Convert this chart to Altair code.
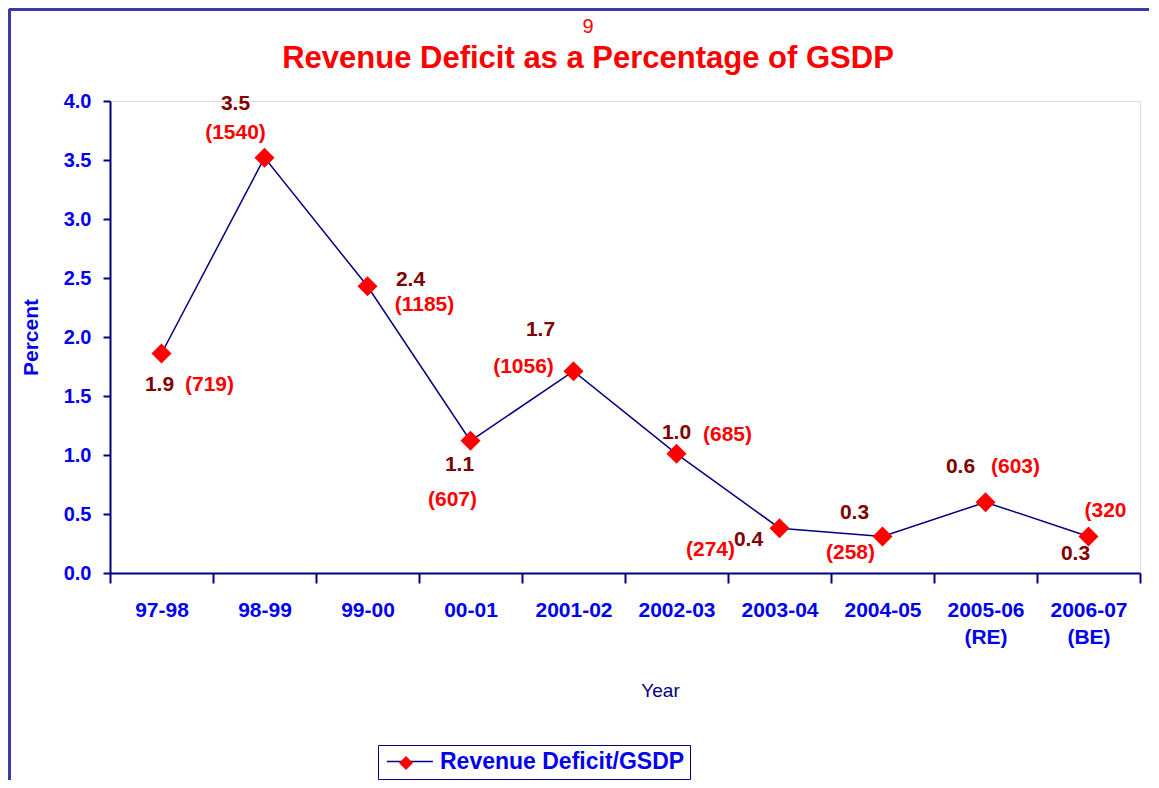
import altair as alt
import pandas as pd

# ---- data ----
years = ["97-98", "98-99", "99-00", "00-01", "2001-02", "2002-03",
         "2003-04", "2004-05", "2005-06 (RE)", "2006-07 (BE)"]
values = [1.86, 3.52, 2.43, 1.12, 1.71, 1.01, 0.38, 0.31, 0.60, 0.31]
value_labels = ["1.9", "3.5", "2.4", "1.1", "1.7", "1.0", "0.4", "0.3", "0.6", "0.3"]
amount_labels = ["(719)", "(1540)", "(1185)", "(607)", "(1056)", "(685)",
                 "(274)", "(258)", "(603)", "(320"]
series_name = "Revenue Deficit/GSDP"
marker_key = "marker"
y_ticks = [0, 0.5, 1.0, 1.5, 2.0, 2.5, 3.0, 3.5, 4.0]

# ---- label placement (pixel offsets from each point) ----
value_offsets = [(-2, 31), (-29, -54), (43, -6), (-11, 24), (-33, -41),
                 (0, -21), (-31, 12), (-28, -23), (-25, -35), (-13, 18)]
amount_offsets = [(48, 31), (-29, -25), (57, 19), (-18, 59), (-50, -4),
                  (51, -19), (-69, 22), (-32, 17), (30, -35), (17, -25)]

NAVY = "#000080"
BLUE = "#0000EE"
RED = "#FF0000"
DARKRED = "#800000"
FRAME = "#3a3aa8"
FONT = "Liberation Sans"

df = pd.DataFrame({
    "year": years,
    "value": values,
    "vlabel": value_labels,
    "alabel": amount_labels,
    "s_line": [series_name] * len(years),
    "s_pt": [marker_key] * len(years),
})

x_enc = alt.X(
    "year:N", sort=years, title="Year",
    scale=alt.Scale(type="band", paddingInner=0, paddingOuter=0),
    axis=alt.Axis(
        labelExpr="split(datum.label, ' ')", labelAngle=0,
        labelFont=FONT, labelFontSize=21, labelFontWeight="bold", labelColor=BLUE,
        labelPadding=16, labelLineHeight=27,
        tickBand="extent", tickSize=10, tickColor=NAVY, tickWidth=2,
        domainColor=NAVY, domainWidth=2,
        titleFont=FONT, titleFontSize=19, titleFontWeight="normal", titleColor=NAVY,
        titlePadding=34, titleX=550,
    ),
)
y_enc = alt.Y(
    "value:Q", title="Percent",
    scale=alt.Scale(domain=[0, 4], nice=False, zero=True),
    axis=alt.Axis(
        values=y_ticks, format=".1f", grid=False,
        labelFont=FONT, labelFontSize=20, labelFontWeight="bold", labelColor=BLUE,
        labelPadding=12, tickSize=7, tickColor=NAVY, tickWidth=2,
        domainColor=NAVY, domainWidth=2,
        titleFont=FONT, titleFontSize=21, titleFontWeight="bold", titleColor=BLUE,
        titlePadding=22,
    ),
)

base = alt.Chart(df)

line = base.mark_line(strokeWidth=1.5).encode(
    x=x_enc, y=y_enc,
    stroke=alt.Stroke(
        "s_line:N",
        scale=alt.Scale(domain=[series_name], range=[NAVY]),
        legend=alt.Legend(
            title=None, orient="none", legendX=268, legendY=644,
            padding=5, strokeColor=NAVY, symbolType="M-1,0H5",
            symbolSize=236, symbolStrokeWidth=1.5,
            labelFont=FONT, labelFontSize=23, labelFontWeight="bold",
            labelColor=BLUE, labelOffset=34, labelLimit=500,
        ),
    ),
)

points = base.mark_point(shape="diamond", filled=True, size=400, opacity=1,
                         strokeWidth=0).encode(
    x=alt.X("year:N", sort=years),
    y=alt.Y("value:Q"),
    fill=alt.Fill(
        "s_pt:N",
        scale=alt.Scale(domain=[marker_key], range=[RED]),
        legend=alt.Legend(
            title=None, orient="none", legendX=289, legendY=655,
            padding=0, symbolType="diamond", symbolSize=196,
            symbolStrokeWidth=0, symbolOpacity=1,
            labelExpr="''", labelFontSize=1, labelOffset=0,
        ),
    ),
)

layers = [line, points]
for i, yr in enumerate(years):
    vdx, vdy = value_offsets[i]
    adx, ady = amount_offsets[i]
    sub = base.transform_filter(alt.datum.year == yr)
    layers.append(
        sub.mark_text(font=FONT, fontSize=21, fontWeight="bold", color=DARKRED,
                      align="center", baseline="middle", dx=vdx, dy=vdy)
        .encode(x=alt.X("year:N", sort=years), y="value:Q", text="vlabel:N")
    )
    layers.append(
        sub.mark_text(font=FONT, fontSize=21, fontWeight="bold", color=RED,
                      align="center", baseline="middle", dx=adx, dy=ady)
        .encode(x=alt.X("year:N", sort=years), y="value:Q", text="alabel:N")
    )

# outer frame of the original picture (top and left edges)
frame_top = alt.Chart(df).mark_rule(color=FRAME, strokeWidth=3).encode(
    x=alt.value(-100.5), x2=alt.value(1039), y=alt.value(-91.5))
frame_left = alt.Chart(df).mark_rule(color=FRAME, strokeWidth=3).encode(
    x=alt.value(-100.5), y=alt.value(-91.5), y2=alt.value(679))
layers += [frame_top, frame_left]

chart = alt.layer(*layers).properties(
    width=1030, height=472,
    padding={"left": 102, "top": 93, "right": 9, "bottom": 207},
    autosize=alt.AutoSizeParams(type="none"),
    title=alt.TitleParams(
        text="9", subtitle="Revenue Deficit as a Percentage of GSDP",
        anchor="middle", frame="group", dx=-37, offset=-66,
        font=FONT, fontSize=20, fontWeight="normal", color=RED,
        subtitleFont=FONT, subtitleFontSize=31, subtitleFontWeight="bold",
        subtitleColor=RED, subtitlePadding=7,
    ),
).configure_view(stroke=None).configure(background="white")

chart.save("out.html", embed_options={"renderer": "svg", "actions": False})
